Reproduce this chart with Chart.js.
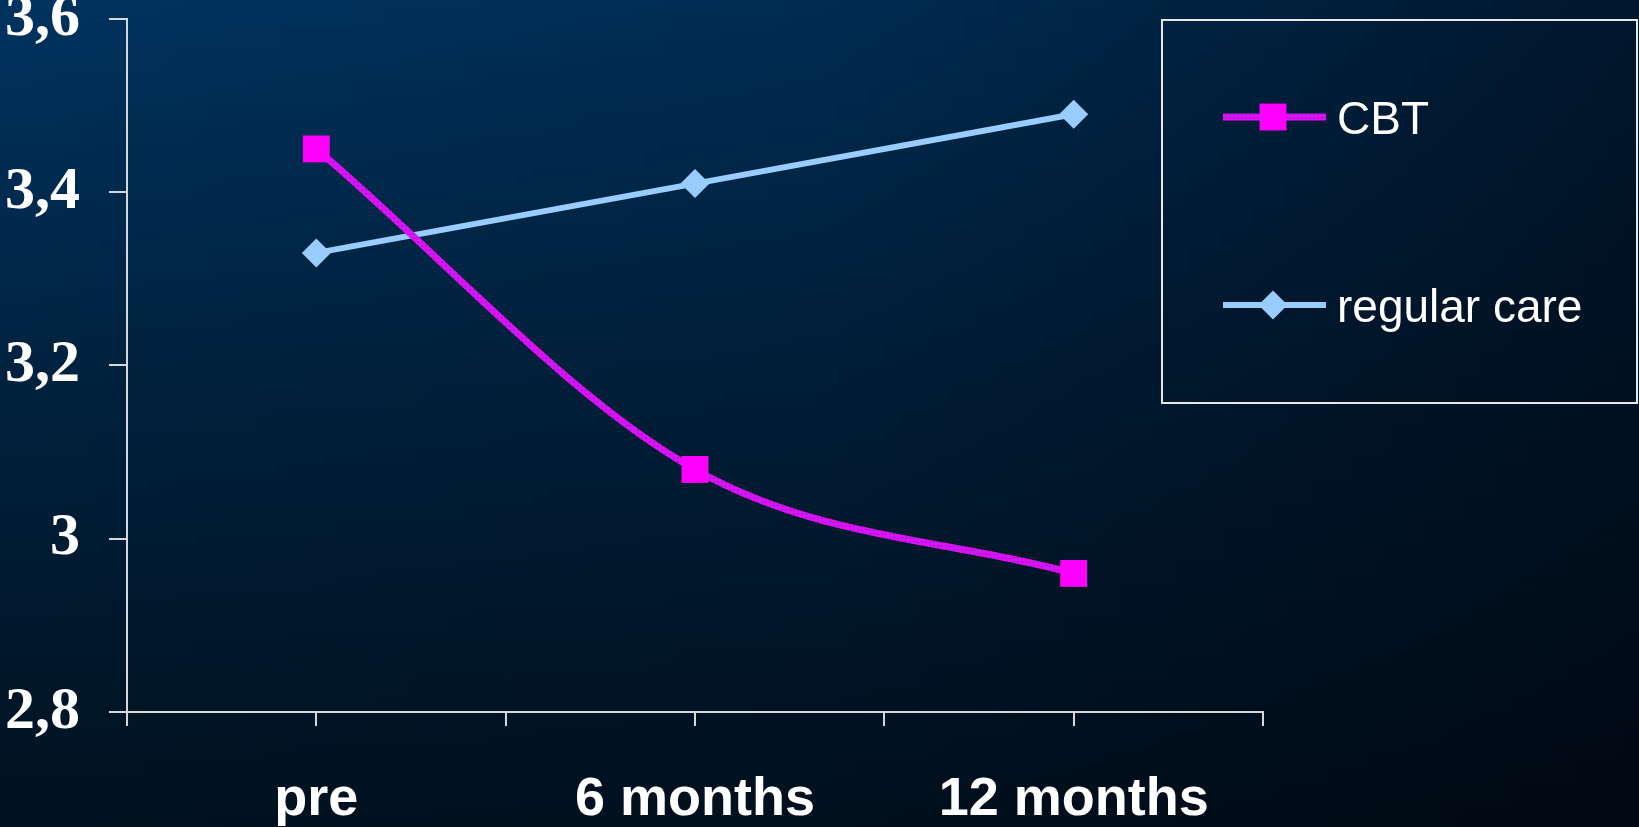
<!DOCTYPE html>
<html>
<head>
<meta charset="utf-8">
<title>CBT vs regular care</title>
<script src="https://cdn.jsdelivr.net/npm/chart.js@4.4.1/dist/chart.umd.min.js"></script>
<style>
  html, body { margin: 0; padding: 0; width: 1639px; height: 827px; overflow: hidden; }
  body {
    background:
      linear-gradient(to right, rgba(0, 4, 12, 0) 0%, rgba(0, 4, 12, 0.15) 50%, rgba(0, 4, 12, 0.6) 100%),
      linear-gradient(to bottom, #00335f 0%, #00223f 45%, #00111f 100%);
  }
  canvas { display: block; }
</style>
</head>
<body>
<canvas id="chart" width="1639" height="827"></canvas>
<script>
// Measurement points along the x axis
const categories = ['pre', '6 months', '12 months'];
// Mean scores per group
const cbtValues = [3.45, 3.08, 2.96];
const regularCareValues = [3.33, 3.41, 3.49];
const seriesNames = ['CBT', 'regular care'];
// Value axis range and step
const yMin = 2.8;
const yMax = 3.6;
const yStep = 0.2;

const MAGENTA = '#ff00ff';
const LIGHT_BLUE = '#99ccff';
const AXIS = '#d4d8dc';

// Dotted magenta fill used for the CBT line
function makeDotPattern() {
  const c = document.createElement('canvas');
  c.width = 4; c.height = 4;
  const g = c.getContext('2d');
  g.fillStyle = MAGENTA;
  g.fillRect(0, 0, 4, 4);
  g.fillStyle = '#5a48c8';
  g.fillRect(1, 1, 2, 2);
  return g.createPattern(c, 'repeat');
}
const ctx = document.getElementById('chart').getContext('2d');
const dotPattern = makeDotPattern();

const toPoints = arr => arr.map((v, i) => ({ x: i, y: v }));
const fmtComma = v => String(Number(v.toFixed(1))).replace('.', ',');

// Legend box drawn in the free space right of the plot
const boxLegend = {
  id: 'boxLegend',
  afterDraw(chart) {
    const c = chart.ctx;
    c.save();
    c.strokeStyle = '#e8e8e8';
    c.lineWidth = 2;
    c.strokeRect(1162, 20, 475, 383);
    const rows = [
      { y: 117, base: 134 },
      { y: 305, base: 322 }
    ];
    chart.data.datasets.forEach((ds, i) => {
      const r = rows[i];
      c.beginPath();
      c.strokeStyle = ds.borderColor;
      c.lineWidth = ds.borderWidth;
      c.moveTo(1223, r.y);
      c.lineTo(1326, r.y);
      c.stroke();
      c.fillStyle = ds.pointBackgroundColor;
      c.strokeStyle = ds.pointBackgroundColor;
      Chart.helpers.drawPoint(c, {
        pointStyle: ds.pointStyle,
        radius: ds.pointRadius,
        rotation: 0,
        borderWidth: 0
      }, 1273, r.y);
      c.fillStyle = '#ffffff';
      c.font = '46px "Liberation Sans", Arial, sans-serif';
      c.textBaseline = 'alphabetic';
      c.textAlign = 'left';
      c.fillText(ds.label, 1337, r.base);
    });
    c.restore();
  }
};

new Chart(ctx, {
  type: 'line',
  data: {
    datasets: [
      {
        label: seriesNames[0],
        data: toPoints(cbtValues),
        borderColor: dotPattern,
        borderWidth: 7,
        cubicInterpolationMode: 'monotone',
        pointStyle: 'rect',
        pointRadius: 19,
        pointBackgroundColor: MAGENTA,
        pointBorderColor: MAGENTA,
        pointBorderWidth: 0
      },
      {
        label: seriesNames[1],
        data: toPoints(regularCareValues),
        borderColor: LIGHT_BLUE,
        borderWidth: 6,
        tension: 0,
        pointStyle: 'rectRot',
        pointRadius: 14.5,
        pointBackgroundColor: LIGHT_BLUE,
        pointBorderColor: LIGHT_BLUE,
        pointBorderWidth: 0
      }
    ]
  },
  options: {
    responsive: false,
    animation: false,
    devicePixelRatio: 1,
    layout: { padding: { top: 19, right: 376, left: 0, bottom: 0 } },
    plugins: { legend: { display: false }, tooltip: { enabled: false } },
    scales: {
      x: {
        type: 'linear',
        min: -0.5,
        max: categories.length - 0.5,
        ticks: {
          stepSize: 0.5,
          autoSkip: false,
          maxRotation: 0,
          color: '#ffffff',
          padding: 42,
          font: { family: '"Liberation Sans", Arial, sans-serif', weight: 'bold', size: 54 },
          callback: v => Number.isInteger(v) ? categories[v] : ''
        },
        grid: { drawOnChartArea: false, drawTicks: true, tickLength: 14, color: AXIS, lineWidth: 2 },
        border: { color: AXIS, width: 2 },
        afterFit: s => { s.height = 115; s.paddingLeft = 0; s.paddingRight = 0; }
      },
      y: {
        min: yMin,
        max: yMax,
        ticks: {
          stepSize: yStep,
          color: '#ffffff',
          padding: 29,
          font: { family: '"Liberation Serif", "Times New Roman", serif', weight: 'bold', size: 60 },
          callback: v => fmtComma(v)
        },
        grid: { drawOnChartArea: false, drawTicks: true, tickLength: 18, color: AXIS, lineWidth: 2 },
        border: { color: AXIS, width: 2 },
        afterFit: s => { s.width = 127; s.paddingTop = 0; s.paddingBottom = 0; }
      }
    }
  },
  plugins: [boxLegend]
});
</script>
</body>
</html>
